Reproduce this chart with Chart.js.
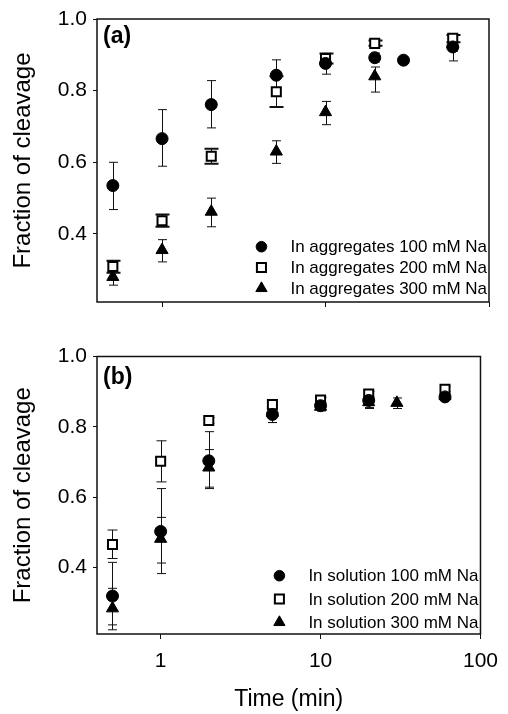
<!DOCTYPE html>
<html><head><meta charset="utf-8">
<script src="https://cdn.jsdelivr.net/npm/chart.js@4/dist/chart.umd.min.js"></script>
<style>
html,body{margin:0;padding:0;background:#fff;}
#wrap{position:relative;width:508px;height:714px;overflow:hidden;}
canvas{position:absolute;left:0;}
</style></head><body>
<div id="wrap">
<canvas id="ca" width="508" height="340" style="top:0"></canvas>
<canvas id="cb" width="508" height="374" style="top:340px"></canvas>
</div>
<script>
// ---------- data ----------
const xTickValues = [1, 10, 100];
const yTickValues = [0.4, 0.6, 0.8, 1.0];

// Panel (a): in aggregates
const agg100X  = [0.5, 1, 2, 5, 10, 20, 30, 60];
const agg100Y  = [0.535, 0.666, 0.761, 0.843, 0.876, 0.892, 0.885, 0.922];
const agg100Lo = [0.468, 0.589, 0.696, 0.800, 0.846, 0.880, null, 0.883];
const agg100Hi = [0.600, 0.747, 0.828, 0.886, 0.904, 0.905, null, 0.950];

const agg200X  = [0.5, 1, 2, 5, 10, 20, 60];
const agg200Y  = [0.309, 0.437, 0.617, 0.797, 0.890, 0.932, 0.946];
const agg200Lo = [0.292, 0.420, 0.596, 0.754, 0.876, 0.925, 0.935];
const agg200Hi = [0.325, 0.454, 0.638, 0.840, 0.904, 0.940, 0.955];

const agg300X  = [0.5, 1, 2, 5, 10, 20, 60];
const agg300Y  = [0.280, 0.355, 0.462, 0.630, 0.740, 0.840, 0.930];
const agg300Lo = [0.257, 0.322, 0.420, 0.597, 0.705, 0.796, 0.910];
const agg300Hi = [0.294, 0.384, 0.500, 0.660, 0.770, 0.866, 0.950];

// Panel (b): in solution
const sol100X  = [0.5, 1, 2, 5, 10, 20, 60];
const sol100Y  = [0.318, 0.502, 0.703, 0.835, 0.860, 0.875, 0.885];
const sol100Lo = [0.236, 0.412, 0.628, 0.812, 0.848, 0.855, 0.878];
const sol100Hi = [0.414, 0.624, 0.786, 0.855, 0.872, 0.895, 0.892];

const sol200X  = [0.5, 1, 2, 5, 10, 20, 60];
const sol200Y  = [0.465, 0.702, 0.818, 0.863, 0.876, 0.893, 0.907];
const sol200Lo = [0.425, 0.643, 0.810, 0.855, 0.868, 0.885, 0.900];
const sol200Hi = [0.506, 0.760, 0.826, 0.871, 0.884, 0.901, 0.914];

const sol300X  = [0.5, 1, 2, 5, 10, 20, 30, 60];
const sol300Y  = [0.283, 0.481, 0.684, 0.840, 0.857, 0.870, 0.868, 0.888];
const sol300Lo = [0.222, 0.382, 0.624, 0.812, 0.845, 0.852, 0.852, 0.878];
const sol300Hi = [0.340, 0.542, 0.735, 0.860, 0.870, 0.885, 0.882, 0.895];

const legendA = ['In aggregates 100 mM Na', 'In aggregates 200 mM Na', 'In aggregates 300 mM Na'];
const legendB = ['In solution 100 mM Na', 'In solution 200 mM Na', 'In solution 300 mM Na'];

// ---------- helpers ----------
const FONT = 'Liberation Sans, Arial, Helvetica, sans-serif';
Chart.defaults.font.family = FONT;
Chart.defaults.color = '#000';

function pts(xs, ys) { return xs.map((x, i) => ({x: x, y: ys[i]})); }

function circleDs(label, xs, ys, lo, hi) {
  return {label, data: pts(xs, ys), errLo: lo, errHi: hi, capW: 9, capLW: 1,
    pointStyle: 'circle', pointRadius: 6, pointBorderWidth: 1,
    backgroundColor: '#000', borderColor: '#000', showLine: false, legendR: 5.3};
}
function squareDs(label, xs, ys, lo, hi, capW, capLW) {
  return {label, data: pts(xs, ys), errLo: lo, errHi: hi, capW: capW, capLW: capLW,
    pointStyle: 'rect', pointRadius: 6.4, pointBorderWidth: 2,
    backgroundColor: '#fff', borderColor: '#000', showLine: false, legendR: 6.4};
}
function triDs(label, xs, ys, lo, hi) {
  return {label, data: pts(xs, ys), errLo: lo, errHi: hi, capW: 9, capLW: 1,
    pointStyle: 'triangle', pointRadius: 7, pointBorderWidth: 1,
    backgroundColor: '#000', borderColor: '#000', showLine: false, legendR: 6.5};
}

const errorBars = {
  id: 'errorBars',
  beforeDatasetsDraw(chart) {
    const {ctx, scales: {x, y}} = chart;
    ctx.save();
    ctx.strokeStyle = '#111';
    chart.data.datasets.forEach(ds => {
      if (!ds.errLo) return;
      ds.data.forEach((p, j) => {
        const lo = ds.errLo[j], hi = ds.errHi[j];
        if (lo == null || hi == null) return;
        const px = Math.round(x.getPixelForValue(p.x)) + 0.5;
        const pl = y.getPixelForValue(lo), ph = y.getPixelForValue(hi);
        ctx.lineWidth = 1;
        ctx.beginPath(); ctx.moveTo(px, pl); ctx.lineTo(px, ph); ctx.stroke();
        ctx.lineWidth = ds.capLW;
        const hw = ds.capW / 2;
        ctx.beginPath();
        ctx.moveTo(px - hw, pl); ctx.lineTo(px + hw, pl);
        ctx.moveTo(px - hw, ph); ctx.lineTo(px + hw, ph);
        ctx.stroke();
      });
    });
    ctx.restore();
  }
};

const frameAndLegend = {
  id: 'frameAndLegend',
  afterDraw(chart) {
    const o = chart.options.plugins.frameAndLegend;
    const {ctx, chartArea: a} = chart;
    ctx.save();
    // frame
    ctx.strokeStyle = '#111';
    ctx.lineWidth = 1.5;
    ctx.strokeRect(a.left, a.top, a.right - a.left, a.bottom - a.top);
    // panel label
    ctx.fillStyle = '#000';
    ctx.font = 'bold 23px ' + FONT;
    ctx.textAlign = 'left';
    ctx.textBaseline = 'middle';
    ctx.fillText(o.panel, a.left + 6, a.top + o.panelDy);
    // legend
    ctx.font = '17px ' + FONT;
    const n = o.labels.length;
    let maxW = 0;
    o.labels.forEach(t => { maxW = Math.max(maxW, ctx.measureText(t).width); });
    const tx = a.right - 2 - maxW;
    const mx = tx - 29;
    chart.data.datasets.forEach((ds, i) => {
      const yy = a.bottom - o.legBottom - (n - 1 - i) * o.legGap;
      ctx.fillStyle = ds.backgroundColor;
      ctx.strokeStyle = ds.borderColor;
      ctx.lineWidth = ds.pointBorderWidth;
      Chart.helpers.drawPoint(ctx, {pointStyle: ds.pointStyle, rotation: 0,
        radius: ds.legendR, borderWidth: ds.pointBorderWidth}, mx, yy);
      ctx.fillStyle = '#000';
      ctx.textAlign = 'left';
      ctx.textBaseline = 'middle';
      ctx.fillText(o.labels[i], tx, yy + 1);
    });
    ctx.restore();
  }
};

function makeOptions(cfg) {
  return {
    responsive: false,
    animation: false,
    devicePixelRatio: 1,
    layout: {padding: {left: 0, right: 19, top: cfg.top, bottom: 0}},
    plugins: {
      legend: {display: false},
      tooltip: {enabled: false},
      frameAndLegend: {panel: cfg.panel, panelDy: cfg.panelDy, labels: cfg.labels,
        legBottom: cfg.legBottom, legGap: cfg.legGap}
    },
    scales: {
      x: {
        type: 'logarithmic', min: 0.4, max: 100,
        afterBuildTicks: s => { s.ticks = xTickValues.map(v => ({value: v, major: true})); },
        afterFit: s => { s.height = cfg.xHeight; },
        border: {display: false},
        grid: {drawOnChartArea: false, drawTicks: true, tickLength: 5, color: '#111', lineWidth: 1},
        ticks: {
          autoSkip: false, maxRotation: 0, padding: 10, color: '#000',
          font: {size: 21, lineHeight: 1.2},
          callback: v => cfg.showX ? String(v) : ''
        },
        title: {display: cfg.showX, text: 'Time (min)', color: '#000',
          font: {size: 23, lineHeight: 1.2}, padding: {top: 0, bottom: 1}}
      },
      y: {
        type: 'linear', min: 0.21, max: 1.0,
        afterBuildTicks: s => { s.ticks = yTickValues.map(v => ({value: v})); },
        afterFit: s => { s.width = 97; },
        border: {display: false},
        grid: {drawOnChartArea: false, drawTicks: true, tickLength: 4, color: '#111', lineWidth: 1},
        ticks: {padding: 6, color: '#000', font: {size: 21, lineHeight: 1},
          callback: v => Number(v).toFixed(1)},
        title: {display: true, text: 'Fraction of cleavage', color: '#000',
          font: {size: 24, lineHeight: 1.2}, padding: {top: 9, bottom: 0}}
      }
    }
  };
}

new Chart(document.getElementById('ca'), {
  type: 'scatter',
  data: {datasets: [
    circleDs(legendA[0], agg100X, agg100Y, agg100Lo, agg100Hi),
    squareDs(legendA[1], agg200X, agg200Y, agg200Lo, agg200Hi, 14, 2),
    triDs(legendA[2], agg300X, agg300Y, agg300Lo, agg300Hi)
  ]},
  options: makeOptions({top: 19, panel: '(a)', panelDy: 18, labels: legendA,
    legBottom: 13.7, legGap: 20.8, xHeight: 38, showX: false}),
  plugins: [errorBars, frameAndLegend]
});

new Chart(document.getElementById('cb'), {
  type: 'scatter',
  data: {datasets: [
    circleDs(legendB[0], sol100X, sol100Y, sol100Lo, sol100Hi),
    squareDs(legendB[1], sol200X, sol200Y, sol200Lo, sol200Hi, 10, 1),
    triDs(legendB[2], sol300X, sol300Y, sol300Lo, sol300Hi)
  ]},
  options: makeOptions({top: 11, panel: '(b)', panelDy: 21, labels: legendB,
    legBottom: 11.7, legGap: 23.3, xHeight: 80, showX: true}),
  plugins: [errorBars, frameAndLegend]
});
</script>
</body></html>
